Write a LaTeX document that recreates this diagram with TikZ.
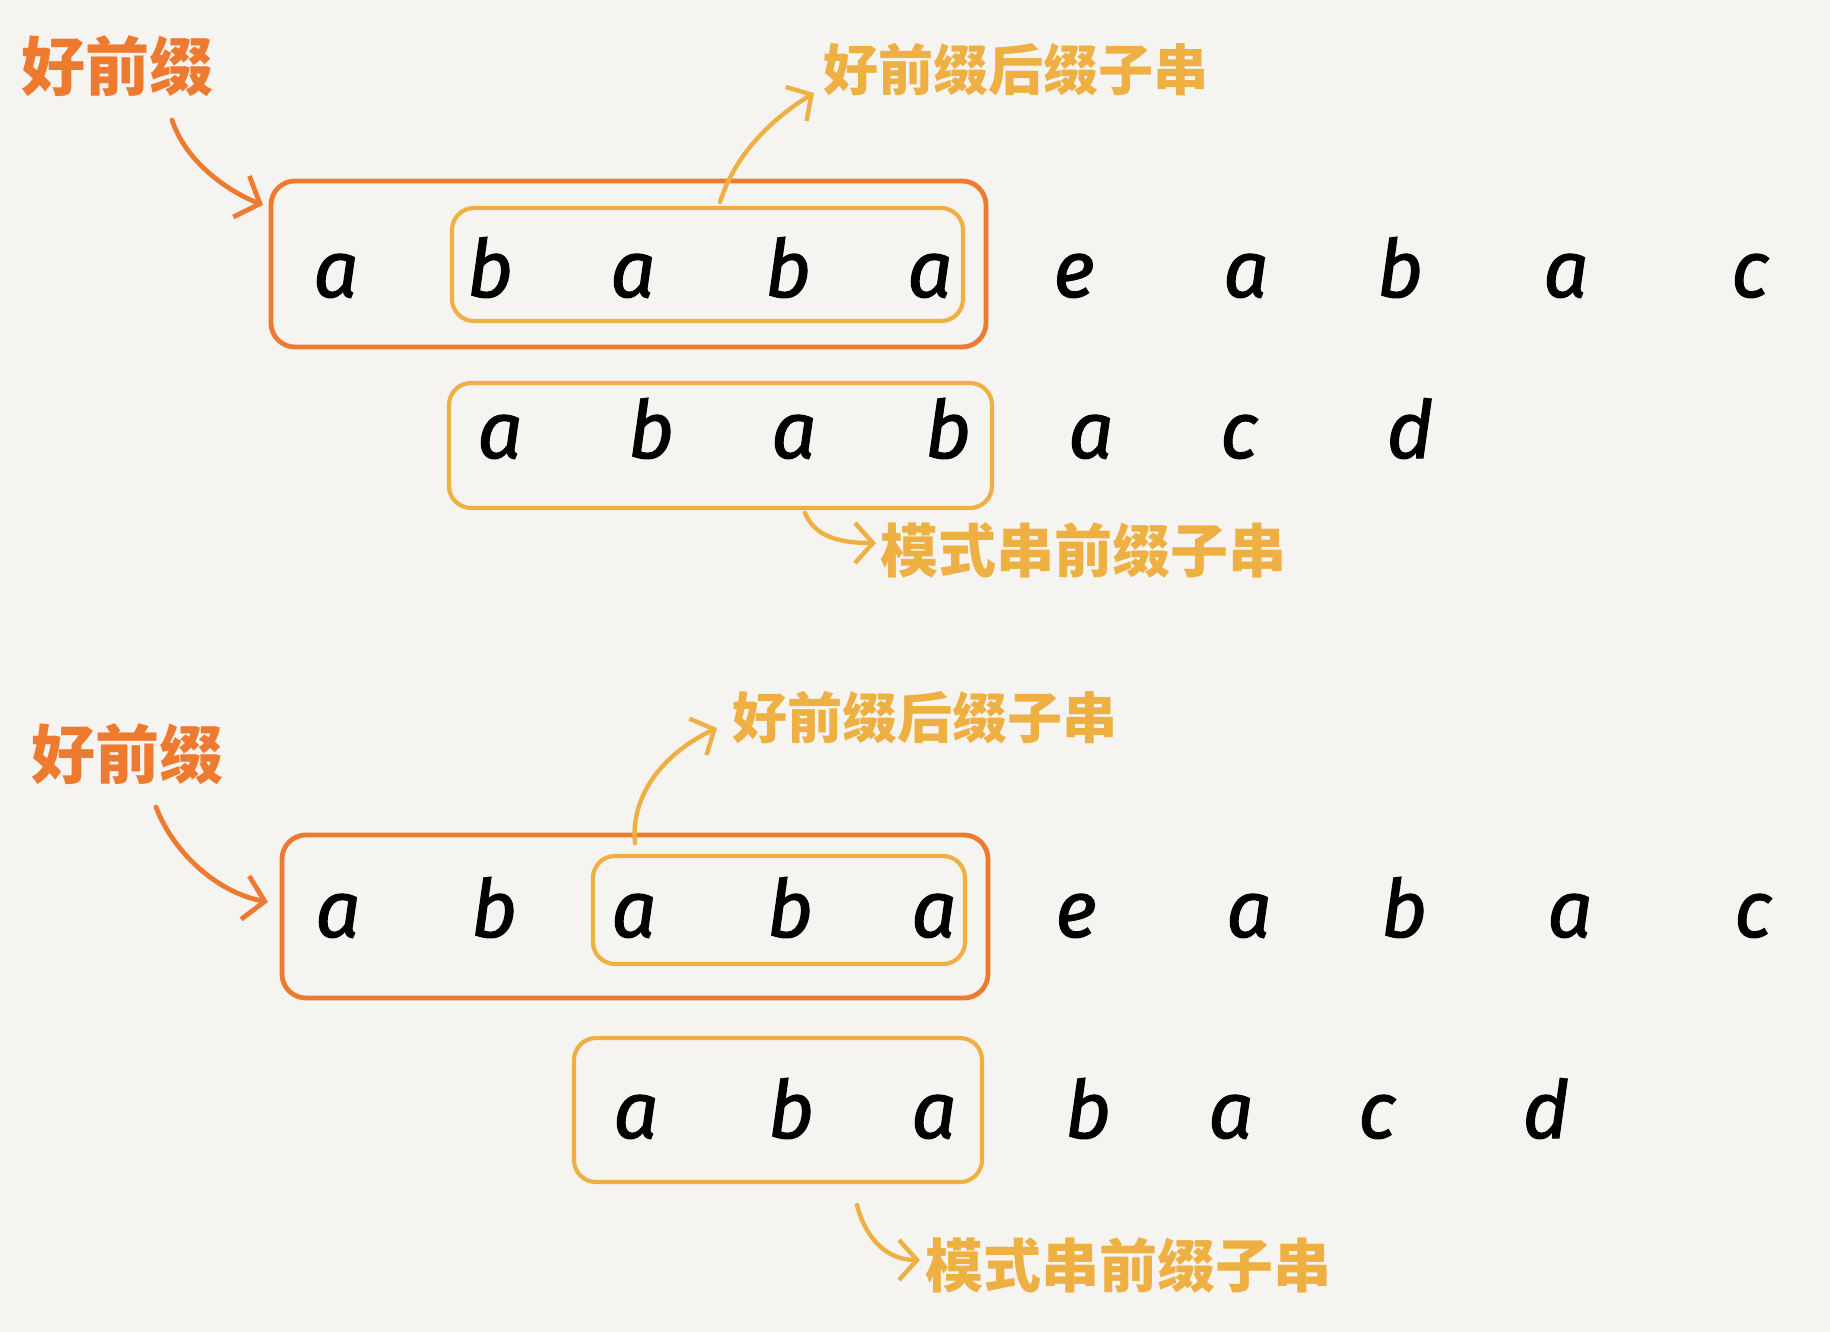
\documentclass[tikz,border=0pt]{standalone}
\usepackage{fontspec}
\setmainfont{Fira Sans}
\newfontfamily\cjk{Noto Sans CJK SC}
\usetikzlibrary{arrows.meta,fit}
\definecolor{bg}{HTML}{F5F4F0}
\definecolor{org}{HTML}{EE7A30}
\definecolor{yel}{HTML}{EFB043}
\begin{document}
\begin{tikzpicture}[x=0.5pt,y=-0.5pt,
  let/.style={font=\fontsize{40}{40}\selectfont\itshape\addfontfeatures{FakeBold=1.3}, text=black, inner sep=0pt, anchor=base},
  obox/.style={draw=org, line width=2.4pt, rounded corners=12pt, inner sep=0pt},
  ybox/.style={draw=yel, line width=2.1pt, rounded corners=11pt, inner sep=0pt},
  oarr/.style={draw=org, line width=2.4pt, line cap=round, line join=round, -{Straight Barb[length=10pt,width=22pt]}},
  yarr/.style={draw=yel, line width=2.2pt, line cap=round, line join=round, -{Straight Barb[length=9pt,width=20pt]}},
  olbl/.style={text=org, inner sep=0pt, font=\cjk\bfseries\fontsize{32}{32}\selectfont},
  ylbl/.style={text=yel, inner sep=0pt, font=\cjk\bfseries\fontsize{27.5}{28}\selectfont},
  plbl/.style={text=yel, inner sep=0pt, font=\cjk\bfseries\fontsize{29}{29}\selectfont}]
\fill[bg] (0,0) rectangle (1830,1332);
\useasboundingbox (0,0) rectangle (1830,1332);

% ---------- top section ----------
\foreach \x/\c [count=\i] in {336/a,490/b,633/a,788/b,930/a,1074/e,1246/a,1400/b,1566/a,1750/c}
  \node[let] (ra\i) at (\x,297) {\c};
\foreach \x/\c [count=\i] in {500/a,651/b,794/a,948/b,1091/a,1239/c,1410/d}
  \node[let] (rb\i) at (\x,458) {\c};

\node[obox, fit={(271,181) (986,347)}] (ob1) {};
\node[ybox, fit={(452,208) (963,321)}] (yb1) {};
\node[ybox, fit={(449,383) (992,508)}] (yb2) {};

\node[olbl] (L1) at (117,66) {好前缀};
\node[ylbl] (L2) at (1016,70) {好前缀后缀子串};
\node[plbl] (L3) at (1083,550) {模式串前缀子串};

\coordinate (a1s) at (172,120); \coordinate (a1t) at (263,205);
\coordinate (a2s) at (720,202); \coordinate (a2t) at (814,93);
\coordinate (a3s) at (805,513); \coordinate (a3t) at (876,543);
\draw[oarr] (a1s) .. controls (185,160) and (225,190) .. (a1t);
\draw[yarr] (a2s) .. controls (735,155) and (770,120) .. (a2t);
\draw[yarr] (a3s) .. controls (815,537) and (840,543) .. (a3t);

% ---------- bottom section ----------
\foreach \x/\c [count=\i] in {338/a,494/b,634/a,790/b,934/a,1076/e,1249/a,1404/b,1570/a,1753/c}
  \node[let] (rc\i) at (\x,937) {\c};
\foreach \x/\c [count=\i] in {636/a,791/b,934/a,1088/b,1231/a,1377/c,1546/d}
  \node[let] (rd\i) at (\x,1138) {\c};

\node[obox, fit={(282,835) (988,998)}] (ob2) {};
\node[ybox, fit={(593,856) (965,964)}] (yb3) {};
\node[ybox, fit={(574,1038) (982,1182)}] (yb4) {};

\node[olbl] (L4) at (128,754) {好前缀};
\node[ylbl] (L5) at (925,718) {好前缀后缀子串};
\node[plbl] (L6) at (1128,1265) {模式串前缀子串};

\coordinate (a4s) at (156,807); \coordinate (a4t) at (268,902);
\coordinate (a5s) at (635,843); \coordinate (a5t) at (717,728);
\coordinate (a6s) at (857,1205); \coordinate (a6t) at (920,1260);
\draw[oarr] (a4s) .. controls (172,850) and (215,892) .. (a4t);
\draw[yarr] (a5s) .. controls (630,790) and (670,750) .. (a5t);
\draw[yarr] (a6s) .. controls (866,1240) and (888,1260) .. (a6t);
\end{tikzpicture}
\end{document}
